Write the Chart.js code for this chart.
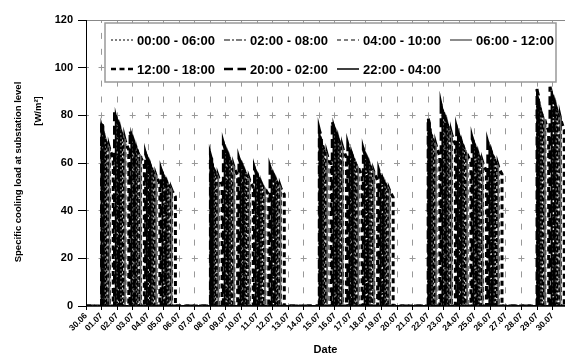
<!DOCTYPE html>
<html><head><meta charset="utf-8">
<script src="https://cdn.jsdelivr.net/npm/chart.js@4"></script>
<style>html,body{margin:0;padding:0;background:#fff}#c{display:block}</style>
</head><body>
<canvas id="c" width="565" height="354"></canvas>
<script>
// ---- data ----
const dateLabels = ['30.06','01.07','02.07','03.07','04.07','05.07','06.07','07.07','08.07','09.07','10.07','11.07','12.07','13.07','14.07','15.07','16.07','17.07','18.07','19.07','20.07','21.07','22.07','23.07','24.07','25.07','26.07','27.07','28.07','29.07','30.07'];
const seriesNames = ['00:00 - 06:00','02:00 - 08:00','04:00 - 10:00','06:00 - 12:00','12:00 - 18:00','20:00 - 02:00','22:00 - 04:00'];
// window start (hour, relative to the working day it serves)
const windowStartHour = [0, 2, 4, 6, 12, -4, -2];
const windowHours = [6, 6, 6, 6, 6, 6, 6];
// index of working days on the date axis
const workDays = [1,2,3,4,5, 8,9,10,11,12, 15,16,17,18,19, 22,23,24,25,26, 29,30];
// relative hourly load inside a window
const windowShape = [1.00, 0.985, 0.975, 0.965, 0.955, 0.945, 0.935];
// load level at window start per working day [W/m2]
const load_00_06 = [74.2,78.2,70.5,61.2,54.7, 60.9,65.6,59.5,55.5,55.9, 71.1,74.3,65.3,63.1,54.5, 75.6,80.9,71.6,67.6,66.0, 87.4,88.3];
const load_02_08 = [73.4,77.4,69.7,60.6,54.2, 60.2,64.9,58.9,54.9,55.3, 70.4,73.5,64.6,62.4,54.0, 74.9,80.1,70.9,66.9,65.3, 86.5,87.4];
const load_04_10 = [71.9,75.8,68.3,59.3,53.0, 59.0,63.5,57.7,53.8,54.1, 68.9,72.0,63.2,61.1,52.8, 73.3,78.4,69.4,65.5,63.9, 84.6,85.6];
const load_06_12 = [70.3,74.2,66.8,58.1,51.9, 57.7,62.2,56.4,52.6,53.0, 67.4,70.4,61.9,59.8,51.7, 71.7,76.7,67.9,64.1,62.5, 82.8,83.7];
const load_12_18 = [66.5,70.1,63.1,54.9,49.0, 54.5,58.7,53.3,49.7,50.1, 63.7,66.6,58.5,56.5,48.8, 67.8,72.5,64.2,60.5,59.1, 78.3,79.1];
const load_20_02 = [77.3,81.5,73.4,63.8,57.0, 63.4,68.3,62.0,57.8,58.2, 74.1,77.4,68.0,65.7,56.8, 78.8,84.3,74.6,70.4,68.7, 91.0,92.0];
const load_22_04 = [75.8,79.9,71.9,62.5,55.9, 62.1,66.9,60.8,56.6,57.0, 72.6,75.9,66.6,64.4,55.7, 77.2,82.6,73.1,69.0,67.3, 89.2,90.2];
const yTicks = [0, 20, 40, 60, 80, 100, 120];
const yTitle = ['Specific cooling load at substation level', '[W/m\u00B2]'];
const xTitle = 'Date';

const seriesLoads = [load_00_06, load_02_08, load_04_10, load_06_12, load_12_18, load_20_02, load_22_04];
const seriesStyle = [
  {color:'#000', width:2,   legendWidth:1,   dash:[2,2]},
  {color:'#000', width:1.6, legendWidth:1,   dash:[6,2,2,2]},
  {color:'#000', width:1.6, legendWidth:1,   dash:[4,3]},
  {color:'#666', width:2,   legendWidth:1.5, dash:[]},
  {color:'#000', width:3,   legendWidth:2.5, dash:[5,3.5]},
  {color:'#000', width:3,   legendWidth:2.5, dash:[9,4.5]},
  {color:'#000', width:2,   legendWidth:1.5, dash:[]}
];
const HOUR = 1/24;
function buildPoints(s) {
  const pts = [{x: 0, y: 0}];
  workDays.forEach((day, i) => {
    const monday = !workDays.includes(day - 1);
    let startH = windowStartHour[s], hours = windowHours[s];
    if (monday && startH < 0) { hours += startH; startH = 0; }
    const t0 = day + startH * HOUR;
    const lvl = seriesLoads[s][i];
    pts.push({x: t0, y: 0});
    for (let h = 0; h <= hours; h++) pts.push({x: t0 + h * HOUR, y: +(lvl * windowShape[h]).toFixed(1)});
    pts.push({x: t0 + hours * HOUR, y: 0});
  });
  pts.push({x: dateLabels.length, y: 0});
  return pts;
}
const datasets = seriesNames.map((name, s) => ({
  label: name,
  data: buildPoints(s),
  borderColor: seriesStyle[s].color,
  borderWidth: seriesStyle[s].width,
  borderDash: seriesStyle[s].dash,
  legendWidth: seriesStyle[s].legendWidth,
  pointRadius: 0,
  fill: false,
  tension: 0
}));

const FONT = "'Liberation Sans', Arial, sans-serif";

const framePlugin = {
  id: 'frame',
  beforeDatasetsDraw(chart) {
    const {ctx, chartArea: a} = chart;
    ctx.save();
    ctx.strokeStyle = '#888';
    ctx.lineWidth = 1;
    ctx.beginPath();
    ctx.moveTo(a.left, a.top + 0.5);
    ctx.lineTo(a.right, a.top + 0.5);
    ctx.stroke();
    ctx.restore();
  },
  afterDatasetsDraw(chart) {
    const {ctx, chartArea: a} = chart;
    ctx.save();
    ctx.strokeStyle = '#000';
    ctx.lineWidth = 1.5;
    ctx.beginPath();
    ctx.moveTo(a.left, a.bottom);
    ctx.lineTo(a.right, a.bottom);
    ctx.stroke();
    ctx.lineWidth = 1;
    ctx.beginPath();
    ctx.moveTo(a.left + 0.5, a.top);
    ctx.lineTo(a.left + 0.5, a.bottom);
    ctx.stroke();
    ctx.restore();
  }
};
const yTitlePlugin = {
  id: 'yTitle',
  afterDraw(chart) {
    const {ctx, chartArea: a} = chart;
    const put = (text, x, y) => {
      ctx.save();
      ctx.fillStyle = '#000';
      ctx.textAlign = 'center';
      ctx.textBaseline = 'middle';
      ctx.font = "bold 9.5px " + FONT;
      ctx.translate(x, y);
      ctx.rotate(-Math.PI / 2);
      ctx.fillText(text, 0, 0);
      ctx.restore();
    };
    put(yTitle[0], 18, a.top + 152);
    put(yTitle[1], 38, a.top + 91);
  }
};
const legendPlugin = {
  id: 'insideLegend',
  afterDraw(chart) {
    const {ctx, chartArea: a} = chart;
    const bx = a.left + 19, by = a.top + 3, bw = 451, bh = 59;
    ctx.save();
    ctx.fillStyle = '#fff';
    ctx.fillRect(bx, by, bw, bh);
    ctx.strokeStyle = '#999';
    ctx.lineWidth = 1.5;
    ctx.strokeRect(bx, by, bw, bh);
    ctx.font = "bold 13px " + FONT;
    ctx.textBaseline = 'middle';
    ctx.fillStyle = '#000';
    chart.data.datasets.forEach((ds, i) => {
      const col = i < 4 ? i : i - 4;
      const row = i < 4 ? 0 : 1;
      const x = bx + 6 + col * 113;
      const y = by + 17 + row * 29;
      ctx.save();
      ctx.strokeStyle = ds.borderColor;
      ctx.lineWidth = ds.legendWidth;
      ctx.setLineDash(ds.borderDash);
      ctx.beginPath();
      ctx.moveTo(x, y);
      ctx.lineTo(x + 22, y);
      ctx.stroke();
      ctx.restore();
      ctx.fillText(ds.label, x + 26, y + 1);
    });
    ctx.restore();
  }
};

new Chart(document.getElementById('c'), {
  type: 'line',
  data: {datasets},
  options: {
    responsive: false,
    animation: false,
    layout: {padding: {left: 0, right: 0, top: 20, bottom: 0}},
    plugins: {legend: {display: false}, tooltip: {enabled: false}},
    scales: {
      x: {
        type: 'linear', min: 0, max: 30.8,
        afterBuildTicks: s => { s.ticks = dateLabels.map((_, i) => ({value: i})); },
        afterFit: s => { s.height = 48; },
        ticks: {autoSkip: false, maxRotation: 45, minRotation: 45, padding: 1, color: '#000',
                font: {family: FONT, size: 8.5, weight: 'bold'},
                callback: v => dateLabels[v]},
        grid: {color: c => (c.tick && c.tick.value === 0) ? 'rgba(0,0,0,0)' : '#999', lineWidth: 1, tickColor: '#000', tickLength: 4},
        border: {display: false, dash: [6, 9.9], dashOffset: 3},
        title: {display: true, text: xTitle, color: '#000', padding: {top: 0, bottom: -3},
                font: {family: FONT, size: 11, weight: 'bold'}}
      },
      y: {
        min: 0, max: 120,
        afterBuildTicks: s => { s.ticks = yTicks.map(v => ({value: v})); },
        afterFit: s => { s.width = 86; },
        ticks: {padding: 5, color: '#000', font: {family: FONT, size: 11, weight: 'bold'}},
        grid: {color: c => (c.tick && (c.tick.value === 120 || c.tick.value === 0)) ? 'rgba(0,0,0,0)' : '#999', lineWidth: 1, tickColor: '#000', tickLength: 8},
        border: {display: false, dash: [6, 9.55], dashOffset: 3}
      }
    }
  },
  plugins: [framePlugin, yTitlePlugin, legendPlugin]
});
</script>
</body></html>
